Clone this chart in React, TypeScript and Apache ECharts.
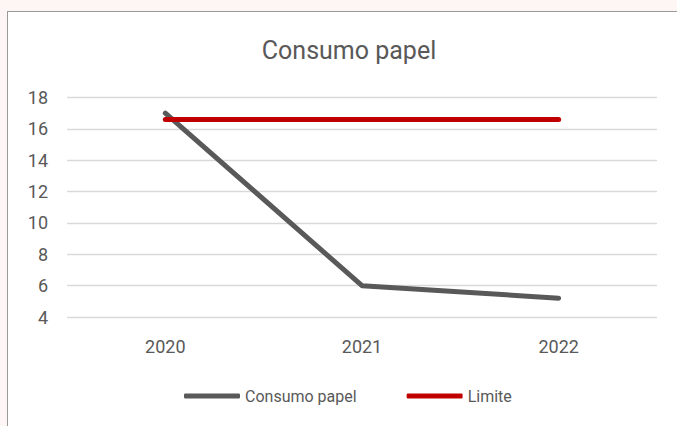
import React, { useEffect, useRef } from "react";
import * as echarts from "echarts";

const categories = ["2020", "2021", "2022"];
const consumoPapel = [17, 6, 5.2];
const limite = [16.6, 16.6, 16.6];
const yTicks = { min: 4, max: 18, interval: 2 };

const FONT = "Roboto, 'Noto Sans', sans-serif";
const TEXT = "#595959";

export default function App() {
  const ref = useRef<HTMLDivElement>(null);
  useEffect(() => {
    document.documentElement.style.overflow = "hidden";
    document.body.style.margin = "0";
    document.body.style.overflow = "hidden";
    if (!ref.current) return;
    const chart = echarts.init(ref.current, undefined, { renderer: "svg" });
    chart.setOption({
      animation: false,
      title: {
        text: "Consumo papel",
        left: 344,
        textAlign: "center",
        top: 33,
        textStyle: { fontFamily: FONT, fontSize: 25, fontWeight: "normal", color: TEXT },
      },
      legend: {
        top: 381,
        left: 179,
        itemWidth: 56,
        itemHeight: 5,
        itemGap: 50,
        textStyle: { fontFamily: FONT, fontSize: 16, color: TEXT, lineHeight: 20 },
        data: [
          { name: "Consumo papel", icon: "roundRect" },
          { name: "Limite", icon: "roundRect" },
        ],
      },
      grid: { left: 67, right: 20, top: 97.5, bottom: 109, containLabel: false },
      xAxis: {
        type: "category",
        data: categories,
        boundaryGap: true,
        axisLine: { show: false },
        axisTick: { show: false },
        axisLabel: { fontFamily: FONT, fontSize: 18, color: TEXT, margin: 20 },
      },
      yAxis: {
        type: "value",
        min: yTicks.min,
        max: yTicks.max,
        interval: yTicks.interval,
        axisLine: { show: false },
        axisTick: { show: false },
        axisLabel: { fontFamily: FONT, fontSize: 18, color: TEXT, margin: 19 },
        splitLine: { lineStyle: { color: "#d9d9d9", width: 1.3 } },
      },
      series: [
        {
          name: "Consumo papel",
          type: "line",
          data: consumoPapel,
          symbol: "none",
          color: "#595959",
          lineStyle: { color: "#595959", width: 5, cap: "round", join: "round" },
        },
        {
          name: "Limite",
          type: "line",
          data: limite,
          symbol: "none",
          color: "#c00000",
          lineStyle: { color: "#c00000", width: 5, cap: "round", join: "round" },
        },
      ],
    });
    return () => chart.dispose();
  }, []);
  return (
    <div
      style={{
        position: "fixed",
        left: 0,
        top: 0,
        width: 677,
        height: 426,
        overflow: "hidden",
        background: "#fdf6f4",
      }}
    >
      <div
        style={{
          position: "absolute",
          left: 7,
          top: 11,
          width: 720,
          height: 460,
          background: "#ffffff",
          borderLeft: "1.5px solid #9a9a9a",
          borderTop: "1.5px solid #9a9a9a",
          boxSizing: "border-box",
        }}
      />
      <div
        ref={ref}
        style={{ position: "absolute", left: 0, top: 0, width: 677, height: 426 }}
      />
    </div>
  );
}
